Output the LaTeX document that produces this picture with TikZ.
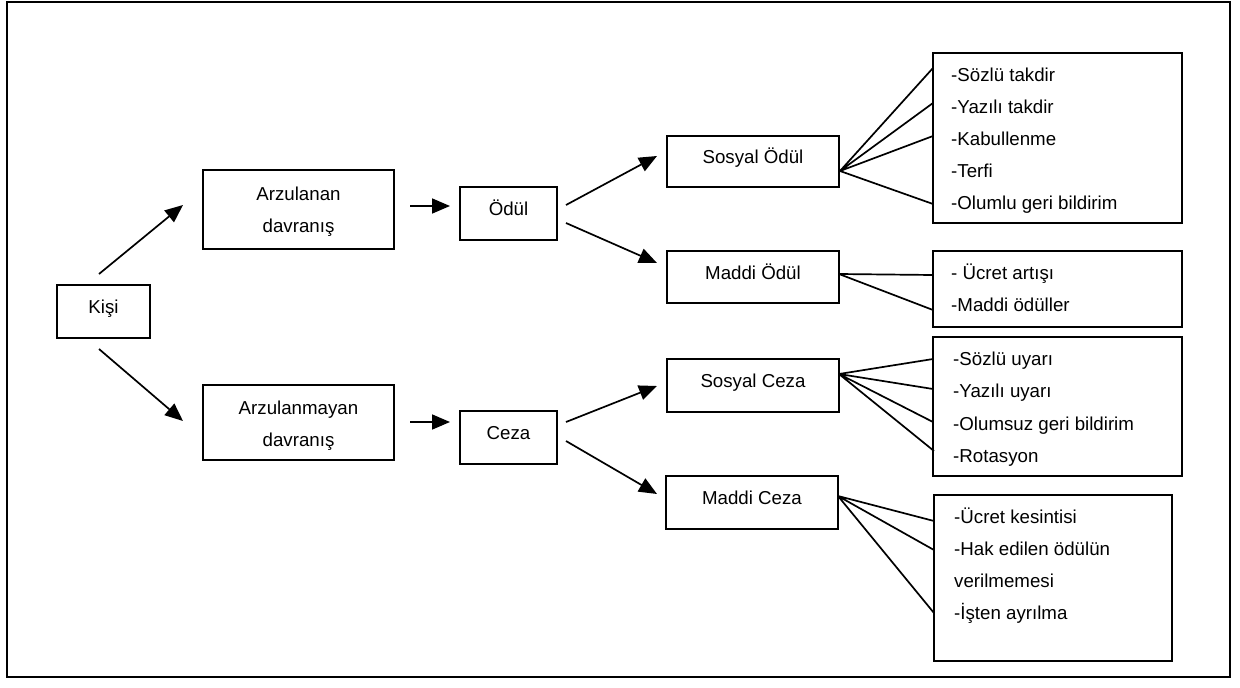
\documentclass[tikz,border=0pt]{standalone}
\usepackage{fontspec}
\setmainfont{Liberation Sans}
\usetikzlibrary{arrows.meta}

\begin{document}
\begin{tikzpicture}[x=1pt,y=-1pt,
  box/.style={draw,line width=1.8pt,inner sep=0pt},
  lbl/.style={anchor=base,inner sep=0pt,font=\fontsize{18.7}{22}\selectfont},
  item/.style={anchor=base west,inner sep=0pt,font=\fontsize{18.7}{22}\selectfont},
  arr/.style={line width=1.7pt,-{Triangle[length=18pt,width=15pt]}},
  fan/.style={line width=1.7pt}]

\useasboundingbox (0,0) rectangle (1240,688);
\draw[line width=1.6pt] (7,2) rectangle (1230,677);

% boxes
\node[box,minimum width=93pt,minimum height=53pt]  (kisi) at (103.5,311.5) {};
\node[box,minimum width=191pt,minimum height=79pt] (arz)  at (298.5,209.5) {};
\node[box,minimum width=191pt,minimum height=75pt] (arzm) at (298.5,422.5) {};
\node[box,minimum width=97pt,minimum height=53pt]  (odul) at (508.5,213.5) {};
\node[box,minimum width=97pt,minimum height=53pt]  (ceza) at (508.5,437.5) {};
\node[box,minimum width=172pt,minimum height=51pt] (so)   at (753,161.5) {};
\node[box,minimum width=172pt,minimum height=52pt] (mo)   at (753,277) {};
\node[box,minimum width=172pt,minimum height=53pt] (sc)   at (753,385.5) {};
\node[box,minimum width=172pt,minimum height=53pt] (mc)   at (752,502.5) {};
\node[box,minimum width=249pt,minimum height=170pt] (l1) at (1057.5,138) {};
\node[box,minimum width=249pt,minimum height=76pt]  (l2) at (1057.5,289) {};
\node[box,minimum width=249pt,minimum height=139pt] (l3) at (1057.5,406.5) {};
\node[box,minimum width=238pt,minimum height=166pt] (l4) at (1053,578) {};

% box labels
\node[lbl] (tkisi) at (103.5,313.5) {Kişi};
\node[lbl] (tarz1) at (298.5,200) {Arzulanan};
\node[lbl] (tarz2) at (298.5,232) {davranış};
\node[lbl] (tarzm1) at (298.5,414) {Arzulanmayan};
\node[lbl] (tarzm2) at (298.5,446) {davranış};
\node[lbl] (todul) at (508.5,215) {Ödül};
\node[lbl] (tceza) at (508.5,439.5) {Ceza};
\node[lbl] (tso) at (753,163.5) {Sosyal Ödül};
\node[lbl] (tmo) at (753,279) {Maddi Ödül};
\node[lbl] (tsc) at (753,387.5) {Sosyal Ceza};
\node[lbl] (tmc) at (752,504.5) {Maddi Ceza};

% list contents
\node[item] (i11) at (951,81)  {-Sözlü takdir};
\node[item] (i12) at (951,113) {-Yazılı takdir};
\node[item] (i13) at (951,145) {-Kabullenme};
\node[item] (i14) at (951,177) {-Terfi};
\node[item] (i15) at (951,209) {-Olumlu geri bildirim};
\node[item] (i21) at (951,279) {- Ücret artışı};
\node[item] (i22) at (951,311) {-Maddi ödüller};
\node[item] (i31) at (953,365) {-Sözlü uyarı};
\node[item] (i32) at (953,397) {-Yazılı uyarı};
\node[item] (i33) at (953,430) {-Olumsuz geri bildirim};
\node[item] (i34) at (953,462) {-Rotasyon};
\node[item] (i41) at (954,523) {-Ücret kesintisi};
\node[item] (i42) at (954,555) {-Hak edilen ödülün};
\node[item] (i43) at (954,587) {verilmemesi};
\node[item] (i44) at (954,619) {-İşten ayrılma};

% arrow end points
\coordinate (k1s) at (99,274);   \coordinate (k1e) at (183,205);
\coordinate (k2s) at (99,349);   \coordinate (k2e) at (183,421);
\coordinate (a1s) at (410,206);  \coordinate (a1e) at (450,206);
\coordinate (a2s) at (410,422);  \coordinate (a2e) at (450,422);
\coordinate (o1s) at (566,205);  \coordinate (o1e) at (657,156);
\coordinate (o2s) at (566,223);  \coordinate (o2e) at (657,263);
\coordinate (c1s) at (566,422);  \coordinate (c1e) at (657,386);
\coordinate (c2s) at (566,441);  \coordinate (c2e) at (657,494);

\draw[arr] (k1s) -- (k1e);
\draw[arr] (k2s) -- (k2e);
\draw[arr] (a1s) -- (a1e);
\draw[arr] (a2s) -- (a2e);
\draw[arr] (o1s) -- (o1e);
\draw[arr] (o2s) -- (o2e);
\draw[arr] (c1s) -- (c1e);
\draw[arr] (c2s) -- (c2e);

% fan-out lines
\coordinate (fso) at (840,171);
\coordinate (fmo) at (839,274);
\coordinate (fsc) at (839,374);
\coordinate (fmc) at (838,496);
\draw[fan] (fso) -- (933,68)  (fso) -- (933,103) (fso) -- (933,136) (fso) -- (933,204);
\draw[fan] (fmo) -- (933,275) (fmo) -- (933,310);
\draw[fan] (fsc) -- (933,359) (fsc) -- (933,389) (fsc) -- (933,422) (fsc) -- (934,451);
\draw[fan] (fmc) -- (934,521) (fmc) -- (934,550) (fmc) -- (934,613);

\end{tikzpicture}
\end{document}
